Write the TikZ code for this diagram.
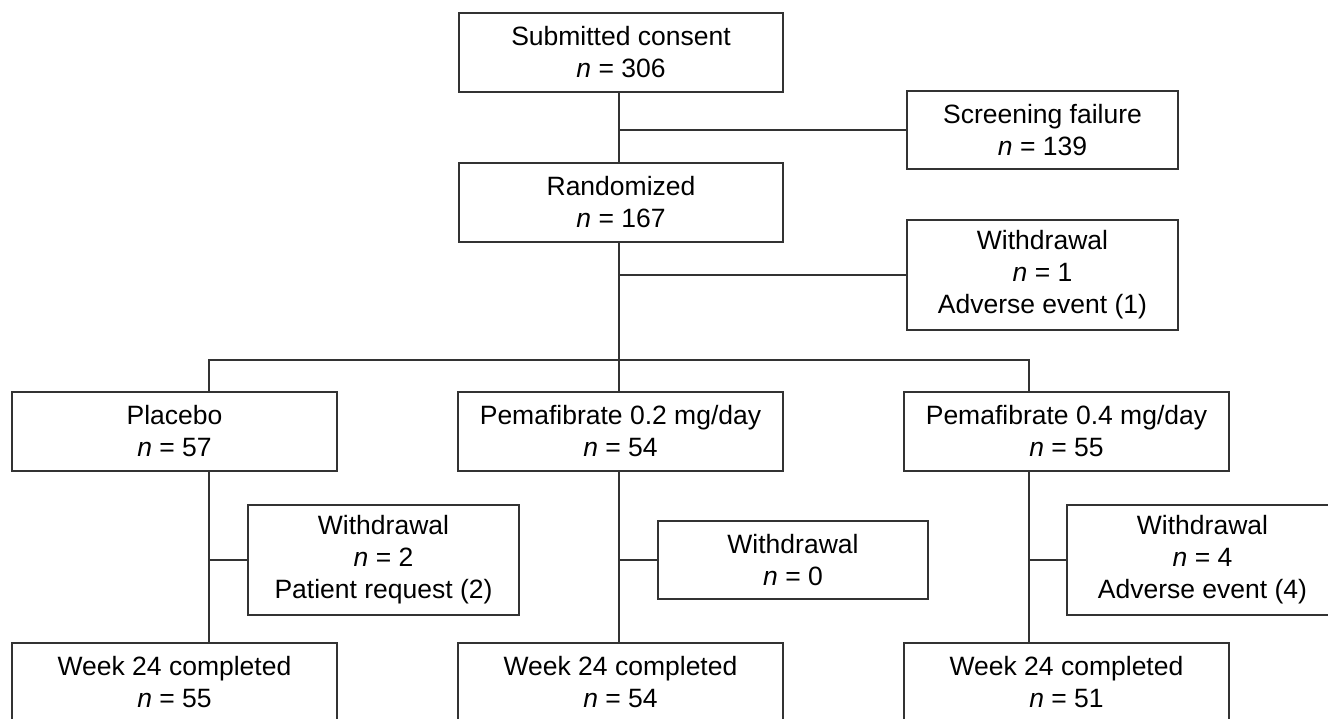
\documentclass[tikz,border=0pt]{standalone}
\usepackage{fontspec}
\setmainfont{Liberation Sans}
\begin{document}
\begin{tikzpicture}[x=1pt,y=-1pt,
  box/.style={draw=black!80, line width=1.4pt, fill=white, align=center, inner sep=0pt,
    font=\fontsize{26.5}{32}\selectfont},
  link/.style={draw=black!80, line width=1.4pt}]
\clip (0,0) rectangle (1328,719);
\fill[white] (0,0) rectangle (1328,719);
% main column
\node[box, minimum width=324pt, minimum height=79pt] (consent) at (621,52.5) {Submitted consent\\\textit{n} = 306};
\node[box, minimum width=324pt, minimum height=79pt] (rand) at (621,202.5) {Randomized\\\textit{n} = 167};
\node[box, minimum width=271pt, minimum height=78pt] (screen) at (1042.5,130) {Screening failure\\\textit{n} = 139};
\node[box, minimum width=271pt, minimum height=110pt] (wd0) at (1042.5,275) {Withdrawal\\\textit{n} = 1\\Adverse event (1)};
% arms
\node[box, minimum width=325pt, minimum height=79pt] (plac) at (174.5,431.5) {Placebo\\\textit{n} = 57};
\node[box, minimum width=325pt, minimum height=79pt] (pemA) at (620.5,431.5) {Pemafibrate 0.2 mg/day\\\textit{n} = 54};
\node[box, minimum width=325pt, minimum height=79pt] (pemB) at (1066.5,431.5) {Pemafibrate 0.4 mg/day\\\textit{n} = 55};
% withdrawals
\node[box, minimum width=271pt, minimum height=110pt] (wdP) at (383.5,560) {Withdrawal\\\textit{n} = 2\\Patient request (2)};
\node[box, minimum width=270pt, minimum height=78pt] (wdA) at (793,560) {Withdrawal\\\textit{n} = 0};
\node[box, minimum width=271pt, minimum height=110pt] (wdB) at (1202.5,560) {Withdrawal\\\textit{n} = 4\\Adverse event (4)};
% completed
\node[box, minimum width=325pt, minimum height=79pt] (wkP) at (174.5,682.5) {Week 24 completed\\\textit{n} = 55};
\node[box, minimum width=325pt, minimum height=79pt] (wkA) at (620.5,682.5) {Week 24 completed\\\textit{n} = 54};
\node[box, minimum width=325pt, minimum height=79pt] (wkB) at (1066.5,682.5) {Week 24 completed\\\textit{n} = 51};
% connector coordinates
\coordinate (cM) at (619,360);
\coordinate (cL) at (209,360);
\coordinate (cR) at (1029,360);
% top connectors
\draw[link] (consent.south -| cM) -- (rand.north -| cM);
\draw[link] (screen.west) -- (screen.west -| cM);
\draw[link] (rand.south -| cM) -- (pemA.north -| cM);
\draw[link] (wd0.west) -- (wd0.west -| cM);
\draw[link] (plac.north -| cL) -- (cL) -- (cR) -- (pemB.north -| cR);
% column connectors
\draw[link] (plac.south -| cL) -- (wkP.north -| cL);
\draw[link] (wdP.west) -- (wdP.west -| cL);
\draw[link] (pemA.south -| cM) -- (wkA.north -| cM);
\draw[link] (wdA.west) -- (wdA.west -| cM);
\draw[link] (pemB.south -| cR) -- (wkB.north -| cR);
\draw[link] (wdB.west) -- (wdB.west -| cR);
\end{tikzpicture}
\end{document}
